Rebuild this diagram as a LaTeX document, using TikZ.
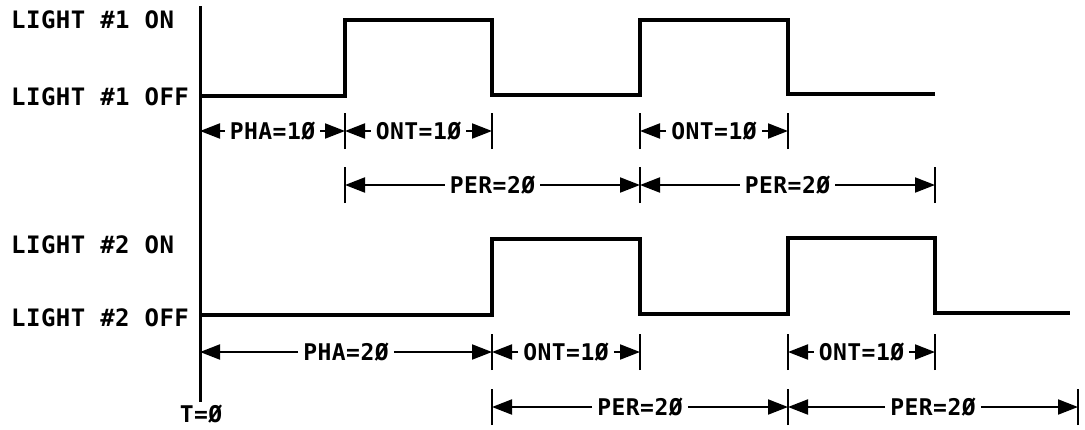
\documentclass[tikz,border=0pt]{standalone}
\usepackage{fontspec}
\newfontfamily\plotfont[LetterSpace=2]{DejaVu Sans Mono Bold}
\usetikzlibrary{arrows.meta}
\tikzset{
  wave/.style={line width=3.5pt, line join=miter},
  axisline/.style={line width=3pt},
  dim/.style={line width=2pt, -{Triangle[length=20pt,width=15pt]}},
  tickmark/.style={line width=2.2pt},
  lbl/.style={font=\plotfont\fontsize{24}{24}\selectfont, anchor=west, inner sep=0pt},
  dlbl/.style={font=\plotfont\fontsize{23}{23}\selectfont, inner sep=5pt},
}
\begin{document}
\begin{tikzpicture}[x=1pt,y=-1pt]
\useasboundingbox (0,0) rectangle (1085,429);
% axis
\coordinate (axtop) at (200,6);
\coordinate (axbot) at (200,402);
\draw[axisline] (axtop) -- (axbot);
\node[dlbl, inner sep=0pt] (t0) at (201,414) {T=Ø};
% labels
\node[lbl] (l1on)  at (11,20)  {LIGHT \#1 ON};
\node[lbl] (l1off) at (11,97)  {LIGHT \#1 OFF};
\node[lbl] (l2on)  at (11,245) {LIGHT \#2 ON};
\node[lbl] (l2off) at (11,318) {LIGHT \#2 OFF};
% waveforms
\draw[wave] (200,96) -- (345,96) -- (345,20) -- (492,20) -- (492,95) -- (640,95) -- (640,20) -- (788,20) -- (788,94) -- (935,94);
\draw[wave] (200,315) -- (492,315) -- (492,239) -- (640,239) -- (640,314) -- (788,314) -- (788,238) -- (935,238) -- (935,313) -- (1070,313);
% dimension coordinates
\coordinate (a0) at (200,131); \coordinate (a1) at (345,131); \coordinate (a2) at (492,131);
\coordinate (a3) at (640,131); \coordinate (a4) at (788,131);
\coordinate (b1) at (345,185); \coordinate (b3) at (640,185); \coordinate (b5) at (935,185);
\coordinate (c0) at (200,352); \coordinate (c2) at (492,352); \coordinate (c3) at (640,352);
\coordinate (c4) at (788,352); \coordinate (c5) at (935,352);
\coordinate (d2) at (492,407); \coordinate (d4) at (788,407); \coordinate (d6) at (1078,407);
% ticks
\foreach \p in {a1,a2,a3,a4,b1,b3,b5,c2,c3,c4,c5,d2,d4,d6}
  \draw[tickmark] ([yshift=-18pt]\p) -- ([yshift=18pt]\p);
% dimension labels
\path (a0) -- (a1) node[midway, dlbl] (pha1) {PHA=1Ø};
\path (a1) -- (a2) node[midway, dlbl] (ont1) {ONT=1Ø};
\path (a3) -- (a4) node[midway, dlbl] (ont2) {ONT=1Ø};
\path (b1) -- (b3) node[midway, dlbl] (per1) {PER=2Ø};
\path (b3) -- (b5) node[midway, dlbl] (per2) {PER=2Ø};
\path (c0) -- (c2) node[midway, dlbl] (pha2) {PHA=2Ø};
\path (c2) -- (c3) node[midway, dlbl] (ont3) {ONT=1Ø};
\path (c4) -- (c5) node[midway, dlbl] (ont4) {ONT=1Ø};
\path (d2) -- (d4) node[midway, dlbl] (per3) {PER=2Ø};
\path (d4) -- (d6) node[midway, dlbl] (per4) {PER=2Ø};
% dimension arrows
\draw[dim] (pha1.west) -- (a0); \draw[dim] (pha1.east) -- (a1);
\draw[dim] (ont1.west) -- (a1); \draw[dim] (ont1.east) -- (a2);
\draw[dim] (ont2.west) -- (a3); \draw[dim] (ont2.east) -- (a4);
\draw[dim] (per1.west) -- (b1); \draw[dim] (per1.east) -- (b3);
\draw[dim] (per2.west) -- (b3); \draw[dim] (per2.east) -- (b5);
\draw[dim] (pha2.west) -- (c0); \draw[dim] (pha2.east) -- (c2);
\draw[dim] (ont3.west) -- (c2); \draw[dim] (ont3.east) -- (c3);
\draw[dim] (ont4.west) -- (c4); \draw[dim] (ont4.east) -- (c5);
\draw[dim] (per3.west) -- (d2); \draw[dim] (per3.east) -- (d4);
\draw[dim] (per4.west) -- (d4); \draw[dim] (per4.east) -- (d6);
\end{tikzpicture}
\end{document}
